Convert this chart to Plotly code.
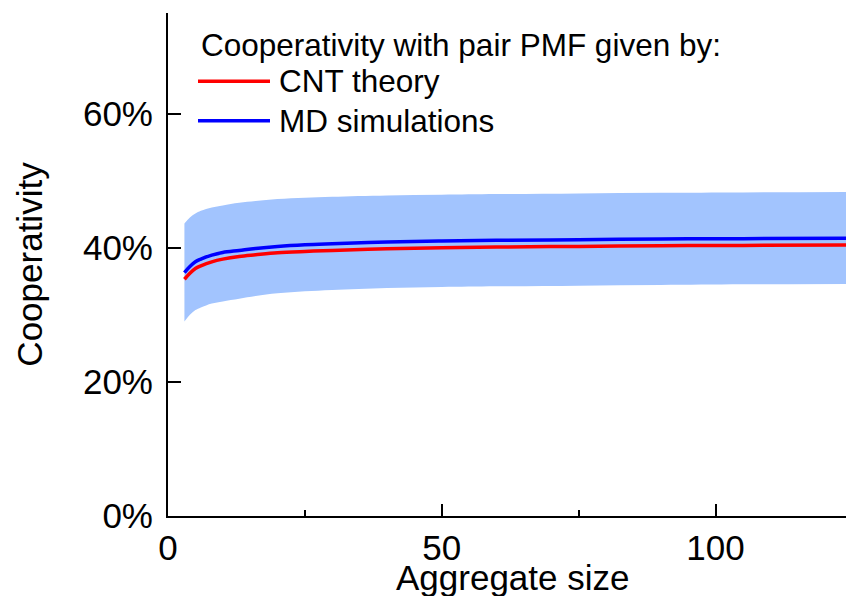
import plotly.graph_objects as go

# Aggregate size (number of molecules)
sizes = [3, 4, 5, 6, 8, 10, 13, 16, 20, 25, 30, 40, 50, 60, 75, 90, 105, 125]

# Cooperativity (%) with pair PMF from CNT theory
cnt_theory = [35.3, 36.2, 36.9, 37.3, 37.9, 38.3, 38.7, 38.95, 39.25, 39.45,
              39.6, 39.85, 40.0, 40.1, 40.2, 40.3, 40.35, 40.4]

# Cooperativity (%) with pair PMF from MD simulations
md_sim = [36.3, 37.2, 37.9, 38.3, 38.9, 39.3, 39.6, 39.9, 40.2, 40.45,
          40.6, 40.85, 41.0, 41.1, 41.2, 41.3, 41.35, 41.4]

# Uncertainty band of the MD-based estimate (%)
md_upper = [43.6, 44.5, 45.1, 45.5, 46.0, 46.3, 46.7, 46.95, 47.25, 47.45,
            47.6, 47.8, 47.9, 48.0, 48.1, 48.2, 48.25, 48.3]
md_lower = [29.0, 30.0, 30.7, 31.1, 31.7, 32.0, 32.4, 32.8, 33.2, 33.5,
            33.7, 34.0, 34.15, 34.25, 34.35, 34.45, 34.55, 34.6]

x_ticks = [0, 50, 100]
y_ticks = [0, 20, 40, 60]
y_tick_labels = ["0%", "20%", "40%", "60%"]

x_title = "Aggregate size"
y_title = "Cooperativity"
legend_title = "Cooperativity with pair PMF given by:"
legend_names = ["CNT theory", "MD simulations"]

W, H = 846, 596
M_L, M_R, M_T, M_B = 168, 0, 12.5, 79.5
FONT = "Liberation Sans, Arial, sans-serif"
BAND = "#A2C4FE"

fig = go.Figure()
fig.add_trace(go.Scatter(x=sizes, y=md_lower, mode="lines", line=dict(width=0, shape="spline"),
                         showlegend=False, hoverinfo="skip"))
fig.add_trace(go.Scatter(x=sizes, y=md_upper, mode="lines", line=dict(width=0, shape="spline"),
                         fill="tonexty", fillcolor=BAND, showlegend=False, hoverinfo="skip"))
fig.add_trace(go.Scatter(x=sizes, y=cnt_theory, mode="lines", name=legend_names[0],
                         line=dict(color="#FF0000", width=3.5, shape="spline"), showlegend=False))
fig.add_trace(go.Scatter(x=sizes, y=md_sim, mode="lines", name=legend_names[1],
                         line=dict(color="#0000FF", width=3.5, shape="spline"), showlegend=False))

pw, ph = W - M_L - M_R, H - M_T - M_B


def px(xp):
    return (xp - M_L) / pw


def py(yp):
    return (H - M_B - yp) / ph


# Hand-drawn legend block in the upper-left of the plot
fig.add_annotation(x=px(199), y=py(45), xref="paper", yref="paper", text=legend_title,
                   showarrow=False, xanchor="left", yanchor="middle",
                   font=dict(family=FONT, size=31.5, color="black"))
for name, color, yy in [(legend_names[0], "#FF0000", 81), (legend_names[1], "#0000FF", 120.5)]:
    fig.add_shape(type="line", xref="paper", yref="paper", x0=px(198), x1=px(270),
                  y0=py(yy), y1=py(yy), line=dict(color=color, width=3.5))
    fig.add_annotation(x=px(277), y=py(yy), xref="paper", yref="paper", text=name,
                       showarrow=False, xanchor="left", yanchor="middle",
                       font=dict(family=FONT, size=31.5, color="black"))

axis_font = dict(family=FONT, size=35, color="black")

# x-axis title sits low, partly clipped by the page edge
fig.add_annotation(x=px(512), y=py(578), xref="paper", yref="paper", text=x_title,
                   showarrow=False, xanchor="center", yanchor="middle", font=axis_font)

fig.update_layout(
    width=W, height=H,
    margin=dict(l=M_L, r=M_R, t=M_T, b=M_B, pad=0, autoexpand=False),
    paper_bgcolor="white", plot_bgcolor="white",
    font=axis_font,
    xaxis=dict(range=[0, pw / 5.475], tickvals=x_ticks, ticks="inside", ticklen=12, tickwidth=2,
               tickcolor="black", showline=True, linecolor="black", linewidth=2,
               showgrid=False, zeroline=False, tickfont=axis_font, automargin=False,
               minor=dict(ticks="inside", ticklen=6, tickwidth=2, tickcolor="black", dtick=25,
                          tick0=0, showgrid=False)),
    yaxis=dict(range=[0, 75], tickmode="array", tickvals=y_ticks, ticktext=y_tick_labels,
               ticks="inside", ticklen=13, ticklabelstandoff=6, automargin=False,
               tickwidth=2, tickcolor="black", showline=True, linecolor="black", linewidth=2,
               showgrid=False, zeroline=False, tickfont=axis_font,
               title=dict(text=y_title, font=axis_font, standoff=30)),
)

fig.write_html("out.html")
